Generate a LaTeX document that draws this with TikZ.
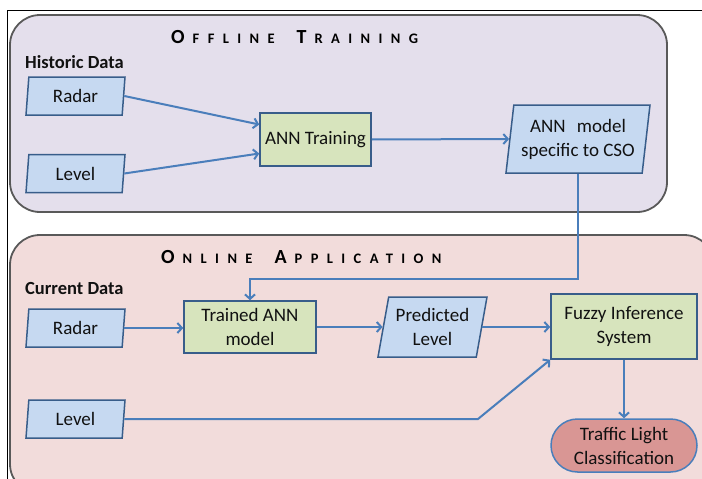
\documentclass[tikz,border=0pt]{standalone}
\usepackage{fontspec}
\setmainfont{Carlito}
\newfontfamily\titlefont[LetterSpace=58]{Carlito}
\usetikzlibrary{shapes.geometric,shapes.misc,arrows.meta,calc}

\definecolor{regionedge}{HTML}{595959}
\definecolor{offfill}{HTML}{E4DFEC}
\definecolor{onfill}{HTML}{F2DCDB}
\definecolor{datafill}{HTML}{C6D9F1}
\definecolor{procfill}{HTML}{D7E4BD}
\definecolor{resfill}{HTML}{D99694}
\definecolor{edgeblue}{HTML}{385D8A}
\definecolor{flowblue}{HTML}{4A7EBB}
\definecolor{txt}{HTML}{111111}

% spaced small-caps titles
\newcommand{\titlecap}[1]{{\fontsize{20}{20}\selectfont #1}}
\newcommand{\titlesc}[1]{{\fontsize{14.5}{14.5}\selectfont #1}}
\newcommand{\lsp}{\kern8pt}
\newcommand{\wsp}{\kern22pt}

\tikzset{
  region/.style={draw=regionedge, line width=1.8pt, rounded corners=30pt},
  boxtext/.style={align=center, text=txt, inner sep=0pt, font=\fontsize{19}{24}\selectfont},
  databox/.style={trapezium, trapezium stretches body, trapezium left angle=#1,
    trapezium right angle=180-#1, draw=edgeblue, line width=1.5pt, fill=datafill, boxtext},
  databox/.default=78,
  procbox/.style={rectangle, draw=edgeblue, line width=1.5pt, fill=procfill, boxtext},
  resbox/.style={rounded rectangle, draw=flowblue, line width=1.5pt, fill=resfill, boxtext},
  flow/.style={draw=flowblue, line width=2pt,
    -{Straight Barb[length=4.5pt,width=10pt]}},
  grouplabel/.style={anchor=west, inner sep=0pt, text=txt,
    font=\fontsize{18.5}{20}\selectfont\bfseries},
  regiontitle/.style={anchor=west, inner sep=0pt, text=black, font=\titlefont\bfseries}
}

\begin{document}
\begin{tikzpicture}[x=1pt, y=-1pt]
  \useasboundingbox (0,0) rectangle (702,479);

  % page frame
  \draw[black, line width=1pt] (7,479) -- (7,10) -- (702,10);

  % the two stages
  \begin{scope}
    \clip (0,0) rectangle (702,479);
    \draw[region, fill=offfill] (10,15) rectangle (667,212);
    \draw[region, fill=onfill] (10,235) rectangle (714,494);
  \end{scope}

  \node[regiontitle] (offtitle) at (171,37)
    {\titlecap{O}\lsp\titlesc{FFLINE}\wsp\titlecap{T}\lsp\titlesc{RAINING}};
  \node[regiontitle] (ontitle) at (161,257)
    {\titlecap{O}\lsp\titlesc{NLINE}\wsp\titlecap{A}\lsp\titlesc{PPLICATION}};

  \node[grouplabel] (hist) at (25,62) {Historic Data};
  \node[grouplabel] (curr) at (25,288) {Current Data};

  % offline training
  \node[databox, minimum width=99pt, minimum height=38pt] (radarA) at (75.5,96) {Radar};
  \node[databox, minimum width=99pt, minimum height=38pt] (levelA) at (75.5,173.5) {Level};
  \node[procbox, minimum width=111pt, minimum height=53pt] (train) at (315.5,139.5) {ANN Training};
  \node[databox=79, minimum width=144pt, minimum height=68pt] (model) at (578,139)
    {ANN\hspace{0.6em}model\\specific to CSO};

  % online application
  \node[databox, minimum width=99pt, minimum height=38pt] (radarB) at (75.5,328) {Radar};
  \node[procbox, minimum width=132pt, minimum height=52pt] (trained) at (250,327) {Trained ANN\\model};
  \node[databox=74, minimum width=109pt, minimum height=60pt] (pred) at (432.5,327) {Predicted\\Level};
  \node[procbox, minimum width=146pt, minimum height=65pt] (fis) at (624,326.5) {Fuzzy Inference\\System};
  \node[databox, minimum width=99pt, minimum height=38pt] (levelB) at (75.5,419) {Level};
  \node[resbox, minimum width=146pt, minimum height=53pt] (tlc) at (624,445.5) {Traffic Light\\Classification};

  \coordinate (drop) at (0,279);
  \coordinate (knee) at (478,0);

  % connectors
  \draw[flow] (radarA.east) -- ($(train.west)+(0,-15)$);
  \draw[flow] (levelA.east) -- ($(train.west)+(0,14)$);
  \draw[flow] (train.east) -- (model.west);
  \draw[flow] (model.south) -- (model.south |- drop) -| (trained.north);
  \draw[flow] (radarB.east) -- (radarB.east -| trained.west);
  \draw[flow] (trained.east) -- (trained.east -| pred.west);
  \draw[flow] (pred.east) -- (pred.east -| fis.west);
  \draw[flow] (levelB.east) -- (levelB.east -| knee) -- (fis.south west);
  \draw[flow] (tlc.north |- fis.south) -- (tlc.north);
\end{tikzpicture}
\end{document}
